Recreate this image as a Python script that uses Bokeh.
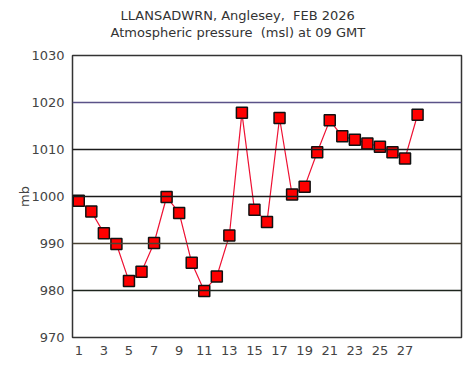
from bokeh.plotting import figure
from bokeh.models import Range1d, FixedTicker, Span, Title, ColumnDataSource
from bokeh.embed import file_html
from bokeh.resources import INLINE

days = list(range(1, 29))
pressure = [999.1, 996.8, 992.2, 989.9, 982.0, 984.0, 990.1, 999.9, 996.5, 985.9,
            979.9, 983.0, 991.7, 1017.8, 997.2, 994.6, 1016.7, 1000.4, 1002.1, 1009.4,
            1016.2, 1012.8, 1012.1, 1011.3, 1010.6, 1009.4, 1008.1, 1017.4]
x_ticks = list(range(1, 29, 2))
y_ticks = [970, 980, 990, 1000, 1010, 1020, 1030]
grid_values = [980, 990, 1000, 1010, 1020]
grid_colors = ["#1c241c", "#4a4232", "#1a1a1a", "#1a1a1a", "#5a5288"]

NB = "\u00a0"
title1 = "LLANSADWRN, Anglesey," + NB + " FEB 2026"
title2 = "Atmospheric pressure" + NB + " (msl) at 09 GMT"

p = figure(width=466, height=364, output_backend="svg", toolbar_location=None,
           x_range=Range1d(0.5, 31.5), y_range=Range1d(970, 1030),
           min_border_left=72, min_border_right=5, min_border_top=55, min_border_bottom=27)
p.title = None
font = "DejaVu Sans"
t2 = Title(text=title2, align="left", offset=38, text_font=font, text_font_size="13px",
           text_font_style="normal", text_color="#333333", standoff=31,
           vertical_align="bottom")
t1 = Title(text=title1, align="left", offset=48, text_font=font, text_font_size="13px",
           text_font_style="normal", text_color="#333333", standoff=-30,
           vertical_align="bottom")
p.add_layout(t2, "above")
p.add_layout(t1, "above")

p.xgrid.visible = False
p.ygrid.visible = False
p.outline_line_color = "#333333"
p.outline_line_width = 1.5
p.background_fill_color = "white"
p.border_fill_color = "white"

for v, c in zip(grid_values, grid_colors):
    p.add_layout(Span(location=v, dimension="width", line_color=c, line_width=1.5))

p.xaxis.ticker = FixedTicker(ticks=x_ticks)
p.yaxis.ticker = FixedTicker(ticks=y_ticks)
for ax in (p.xaxis[0], p.yaxis[0]):
    ax.axis_line_color = None
    ax.major_tick_line_color = None
    ax.minor_tick_line_color = None
    ax.major_tick_out = 0
    ax.major_tick_in = 0
    ax.major_label_text_font = font
    ax.major_label_text_font_size = "13px"
    ax.major_label_text_color = "#444444"
    ax.major_label_standoff = 8
p.yaxis.axis_label = "mb"
p.yaxis.axis_label_text_font = font
p.yaxis.axis_label_text_font_size = "13px"
p.yaxis.axis_label_text_font_style = "normal"
p.yaxis.axis_label_text_color = "#444444"
p.yaxis.axis_label_standoff = -4

src = ColumnDataSource(dict(x=days, y=pressure))
p.line("x", "y", source=src, line_color="#ee1133", line_width=1.2)
p.scatter("x", "y", source=src, marker="square", size=11, fill_color="#ff0000",
          line_color="#111111", line_width=1.5)

open("out.html", "w").write(file_html(p, INLINE))
